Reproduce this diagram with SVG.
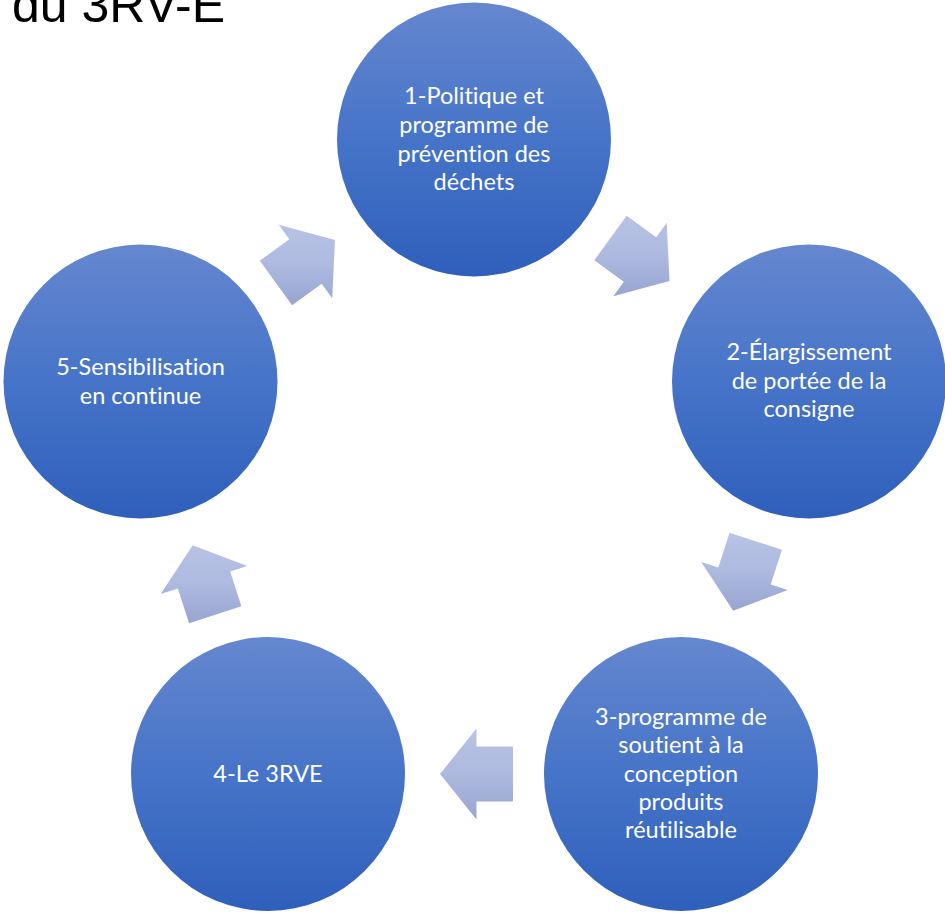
<svg xmlns="http://www.w3.org/2000/svg" width="945" height="913" viewBox="0 0 945 913">
<defs>
<linearGradient id="gCircle" x1="0" y1="0" x2="0" y2="1">
<stop offset="0" stop-color="#6587cf"/>
<stop offset="0.5" stop-color="#4674c8"/>
<stop offset="1" stop-color="#2e5fbb"/>
</linearGradient>
<linearGradient id="gArrow" x1="0" y1="0" x2="0" y2="1">
<stop offset="0" stop-color="#b8c3e5"/>
<stop offset="0.5" stop-color="#adb9df"/>
<stop offset="1" stop-color="#98a5d0"/>
</linearGradient>
</defs>
<style>
.node circle{fill:url(#gCircle);}
.node text{fill:#ffffff;font-family:Lato,"Open Sans","Liberation Sans",sans-serif;font-size:23.5px;text-anchor:middle;font-variant-ligatures:none;font-feature-settings:"liga" 0;}
.arrow{fill:url(#gArrow);}
.title{font-family:"Liberation Sans",Arial,sans-serif;font-size:50px;fill:#000000;}
</style>
<rect width="945" height="913" fill="#ffffff"/>
<text class="title" x="12" y="22">du 3RV-E</text>
<g id="connectors">
<polygon class="arrow" points="626.6,215.8 656.2,237.3 666.7,222.7 669.5,281.0 613.3,296.3 623.8,281.8 594.3,260.3"/>
<polygon class="arrow" points="781.9,549.8 770.7,584.5 787.8,590.1 733.2,610.7 701.2,561.9 718.3,567.5 729.6,532.8"/>
<polygon class="arrow" points="513,801.5 476.5,801.5 476.5,819.5 440,774 476.5,728.5 476.5,746.5 513,746.5"/>
<polygon class="arrow" points="189.1,623.2 177.8,588.5 160.7,594.1 192.7,545.3 247.3,565.9 230.2,571.5 241.4,606.2"/>
<polygon class="arrow" points="259.8,260.7 289.3,239.3 278.8,224.7 335.0,240.0 332.2,298.3 321.7,283.8 292.1,305.2"/>
</g>
<g id="node1" class="node">
<circle cx="474" cy="139.5" r="137"/>
<text x="474" y="104">1-Politique et</text>
<text x="474" y="133">programme de</text>
<text x="474" y="161.5">prévention des</text>
<text x="474" y="190">déchets</text>
</g>
<g id="node2" class="node">
<circle cx="809" cy="381.5" r="137"/>
<text x="809" y="360">2-Élargissement</text>
<text x="809" y="388.5">de portée de la</text>
<text x="809" y="417">consigne</text>
</g>
<g id="node3" class="node">
<circle cx="681" cy="774" r="137"/>
<text x="681" y="725">3-programme de</text>
<text x="681" y="753">soutient à la</text>
<text x="681" y="781.5">conception</text>
<text x="681" y="810">produits</text>
<text x="681" y="838">réutilisable</text>
</g>
<g id="node4" class="node">
<circle cx="268" cy="774" r="137"/>
<text x="268" y="782">4-Le 3RVE</text>
</g>
<g id="node5" class="node">
<circle cx="140.5" cy="381.5" r="137"/>
<text x="140.5" y="375">5-Sensibilisation</text>
<text x="140.5" y="404">en continue</text>
</g>
</svg>
